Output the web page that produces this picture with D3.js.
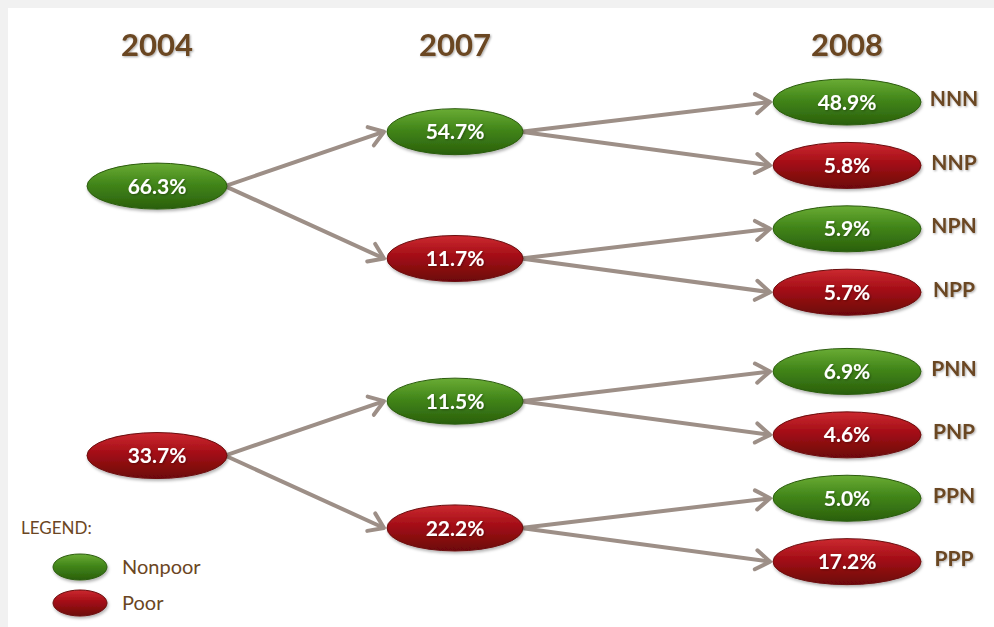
<!DOCTYPE html>
<html>
<head>
<meta charset="utf-8">
<script src="https://cdn.jsdelivr.net/npm/d3@7"></script>
<style>
  body { margin: 0; background: #fff; }
  svg { display: block; }
  text { font-family: Lato, "Open Sans", sans-serif; }
</style>
</head>
<body>
<svg id="chart"></svg>
<script>
// data
const years = ["2004", "2007", "2008"];
const level2004 = ["66.3%", "33.7%"];
const level2007 = ["54.7%", "11.7%", "11.5%", "22.2%"];
const level2008 = ["48.9%", "5.8%", "5.9%", "5.7%", "6.9%", "4.6%", "5.0%", "17.2%"];
const pathCodes = ["NNN", "NNP", "NPN", "NPP", "PNN", "PNP", "PPN", "PPP"];
const legendItems = ["Nonpoor", "Poor"];

const width = 994;
const height = 627;

const svg = d3.select("#chart")
    .attr("width", width)
    .attr("height", height);

const BROWN = "#6b4623";
const ARROW = "#9d8f87";

// gradients for the ovals
const defs = svg.append("defs");
const grads = {
    N: ["#6aac34", "#42861a", "#2a5f0b"],
    P: ["#cc2a30", "#a30d16", "#6c0609"]
};
Object.entries(grads).forEach(([k, c]) => {
    const g = defs.append("linearGradient")
        .attr("id", "grad" + k)
        .attr("x1", 0).attr("y1", 0).attr("x2", 0).attr("y2", 1);
    g.append("stop").attr("offset", "0%").attr("stop-color", c[0]);
    g.append("stop").attr("offset", "45%").attr("stop-color", c[1]);
    g.append("stop").attr("offset", "100%").attr("stop-color", c[2]);
});
const shadow = defs.append("filter").attr("id", "shadow")
    .attr("x", "-20%").attr("y", "-30%").attr("width", "140%").attr("height", "170%");
shadow.append("feDropShadow")
    .attr("dx", 1).attr("dy", 2).attr("stdDeviation", 1.5)
    .attr("flood-color", "#000").attr("flood-opacity", 0.3);
const textShadow = defs.append("filter").attr("id", "tshadow");
textShadow.append("feDropShadow")
    .attr("dx", 1).attr("dy", 1).attr("stdDeviation", 0.8)
    .attr("flood-color", "#000").attr("flood-opacity", 0.35);

// faint frame like the original slide
svg.append("rect").attr("width", width).attr("height", height).attr("fill", "#f1f1f1");
svg.append("rect").attr("x", 8).attr("y", 8)
    .attr("width", width - 8).attr("height", height - 8).attr("fill", "#fff");

// build the tree: status letters come from the path codes
function buildNode(level, index) {
    const lists = [level2004, level2007, level2008];
    const code = pathCodes[index * Math.pow(2, 2 - level)].slice(0, level + 1);
    const node = {
        label: lists[level][index],
        status: code[level],
        code: code,
        level: level
    };
    if (level < 2) node.children = [buildNode(level + 1, index * 2), buildNode(level + 1, index * 2 + 1)];
    return node;
}
const rootData = { children: level2004.map((d, i) => buildNode(0, i)) };

const root = d3.hierarchy(rootData);
const treeTop = 102, leafStep = 63.4;
d3.cluster()
    .nodeSize([leafStep, 1])
    .separation((a, b) => (a.parent.parent === b.parent.parent ? 1 : 1.25))(root);
const minX = d3.min(root.leaves(), d => d.x);

const xScale = d3.scaleOrdinal().domain(years).range([157, 455, 847]);
const rx = d3.scaleOrdinal().domain(years).range([70, 68, 74]);
const lift = d3.scaleOrdinal().domain(years).range([-11, -2, 0]); // earlier columns sit a little higher
const ry = 23;

const nodes = root.descendants().filter(d => d.depth > 0);
nodes.forEach(d => {
    const yr = years[d.depth - 1];
    d.cx = xScale(yr);
    d.cy = treeTop + d.x - minX + lift(yr);
    d.rx = rx(yr);
});

// year headers
svg.append("g").selectAll("text")
    .data(years)
    .enter()
    .append("text")
    .attr("x", d => xScale(d))
    .attr("y", 56)
    .attr("text-anchor", "middle")
    .style("font-size", "31px")
    .style("font-weight", "bold")
    .attr("fill", BROWN)
    .attr("filter", "url(#tshadow)")
    .text(d => d);

// arrows
const links = root.links().filter(l => l.source.depth > 0);
const arrowG = svg.append("g");
links.forEach(l => {
    const x1 = l.source.cx + l.source.rx - 2, y1 = l.source.cy;
    const x2 = l.target.cx - l.target.rx - 3, y2 = l.target.cy;
    const ang = Math.atan2(y2 - y1, x2 - x1);
    const len = 17, spread = 0.6;
    arrowG.append("line")
        .attr("x1", x1).attr("y1", y1).attr("x2", x2).attr("y2", y2)
        .attr("stroke", ARROW).attr("stroke-width", 4);
    arrowG.append("path")
        .attr("d", d3.line()([
            [x2 - len * Math.cos(ang - spread), y2 - len * Math.sin(ang - spread)],
            [x2, y2],
            [x2 - len * Math.cos(ang + spread), y2 - len * Math.sin(ang + spread)]
        ]))
        .attr("fill", "none")
        .attr("stroke", ARROW).attr("stroke-width", 4)
        .attr("stroke-linecap", "round").attr("stroke-linejoin", "round");
});

// ovals
const nodeG = svg.append("g").selectAll("g")
    .data(nodes)
    .enter()
    .append("g")
    .attr("transform", d => `translate(${d.cx},${d.cy})`);

nodeG.append("ellipse")
    .attr("rx", d => d.rx)
    .attr("ry", ry)
    .attr("fill", d => `url(#grad${d.data.status})`)
    .attr("stroke", d => d.data.status === "N" ? "#2c5c10" : "#6a0a0c")
    .attr("stroke-width", 1)
    .attr("filter", "url(#shadow)");

nodeG.append("text")
    .attr("text-anchor", "middle")
    .attr("dy", "0.36em")
    .style("font-size", "21px")
    .style("font-weight", "bold")
    .attr("fill", "#fff")
    .attr("filter", "url(#tshadow)")
    .text(d => d.data.label);

// path codes on the right
svg.append("g").selectAll("text")
    .data(nodes.filter(d => d.depth === 3))
    .enter()
    .append("text")
    .attr("x", 954)
    .attr("y", d => d.cy - 3)
    .attr("dy", "0.35em")
    .attr("text-anchor", "middle")
    .style("font-size", "21px")
    .style("font-weight", "bold")
    .attr("fill", BROWN)
    .attr("filter", "url(#tshadow)")
    .text(d => d.data.code);

// legend
const legend = svg.append("g");
legend.append("text")
    .attr("x", 21).attr("y", 534)
    .style("font-size", "17px")
    .attr("fill", BROWN)
    .text("LEGEND:");

const legendRow = legend.selectAll("g.item")
    .data(legendItems)
    .enter()
    .append("g")
    .attr("class", "item")
    .attr("transform", (d, i) => `translate(80,${567 + i * 36})`);

legendRow.append("ellipse")
    .attr("rx", 27).attr("ry", 13)
    .attr("fill", (d, i) => i === 0 ? "url(#gradN)" : "url(#gradP)")
    .attr("stroke", (d, i) => i === 0 ? "#2c5c10" : "#6a0a0c")
    .attr("filter", "url(#shadow)");

legendRow.append("text")
    .attr("x", 42)
    .attr("dy", "0.35em")
    .style("font-size", "20px")
    .attr("fill", BROWN)
    .text(d => d);
</script>
</body>
</html>
